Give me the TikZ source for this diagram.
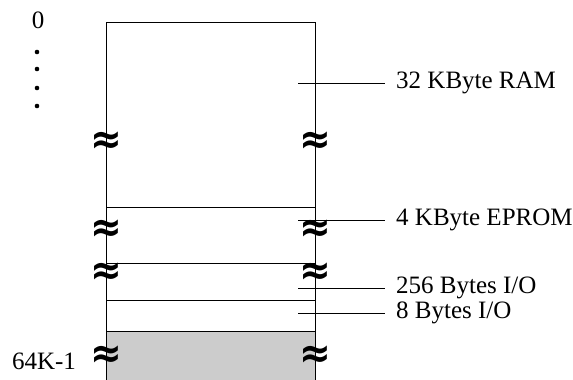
\documentclass[tikz,border=0pt]{standalone}
\usepackage{fontspec}
\setmainfont{Liberation Serif}
\newfontfamily\symfont{DejaVu Sans}
\usetikzlibrary{positioning}

\begin{document}
\begin{tikzpicture}[x=1pt, y=-1pt,
    region/.style={draw, line width=0.7pt, minimum width=209pt,
                   inner sep=0pt, outer sep=0pt, anchor=north},
    lbl/.style={anchor=west, inner xsep=11pt, inner ysep=0pt,
                font=\fontsize{25}{28}\selectfont},
    addr/.style={inner sep=0pt, font=\fontsize{25}{28}\selectfont},
    brk/.style={inner sep=0pt, font=\symfont\bfseries\fontsize{38}{38}\selectfont},
    lead/.style={line width=0.6pt}]
  \useasboundingbox (0,0) rectangle (573,380);

  % memory regions, top to bottom
  \node[region, minimum height=185pt] (ram) at (210.5,22) {};
  \node[region, minimum height=56pt] (eprom) at (210.5,207) {};
  \node[region, minimum height=37pt] (ioa) at (210.5,263) {};
  \node[region, minimum height=31pt] (iob) at (210.5,300) {};
  \node[region, fill=black!20, minimum height=52pt] (high) at (210.5,331) {};

  % breaks in the address range
  \foreach \y/\n in {143/a, 231/b, 274/c, 357/d} {
    \node[brk] (brkl\n) at (106,\y) {\scalebox{1.0}[1.1]{≈}};
    \node[brk] (brkr\n) at (315,\y) {\scalebox{1.0}[1.1]{≈}};
  }

  % addresses
  \node[addr] (addr0) at (38,20) {0};
  \foreach \y in {52, 69, 88, 106}
    \fill (37,\y) circle (2.3pt);
  \node[addr] (addrtop) at (44,361) {64K-1};

  % labels
  \node[lbl] (ramlbl) at (385,83) {32 KByte RAM};
  \node[lbl] (epromlbl) at (385,220) {4 KByte EPROM};
  \node[lbl] (ioalbl) at (385,288) {256 Bytes I/O};
  \node[lbl] (ioblbl) at (385,313) {8 Bytes I/O};

  \coordinate (ramtick) at (298,83);
  \coordinate (epromtick) at (298,220);
  \coordinate (ioatick) at (298,288);
  \coordinate (iobtick) at (298,313);

  \draw[lead] (ramtick) -- (ramlbl);
  \draw[lead] (epromtick) -- (epromlbl);
  \draw[lead] (ioatick) -- (ioalbl);
  \draw[lead] (iobtick) -- (ioblbl);
\end{tikzpicture}
\end{document}
